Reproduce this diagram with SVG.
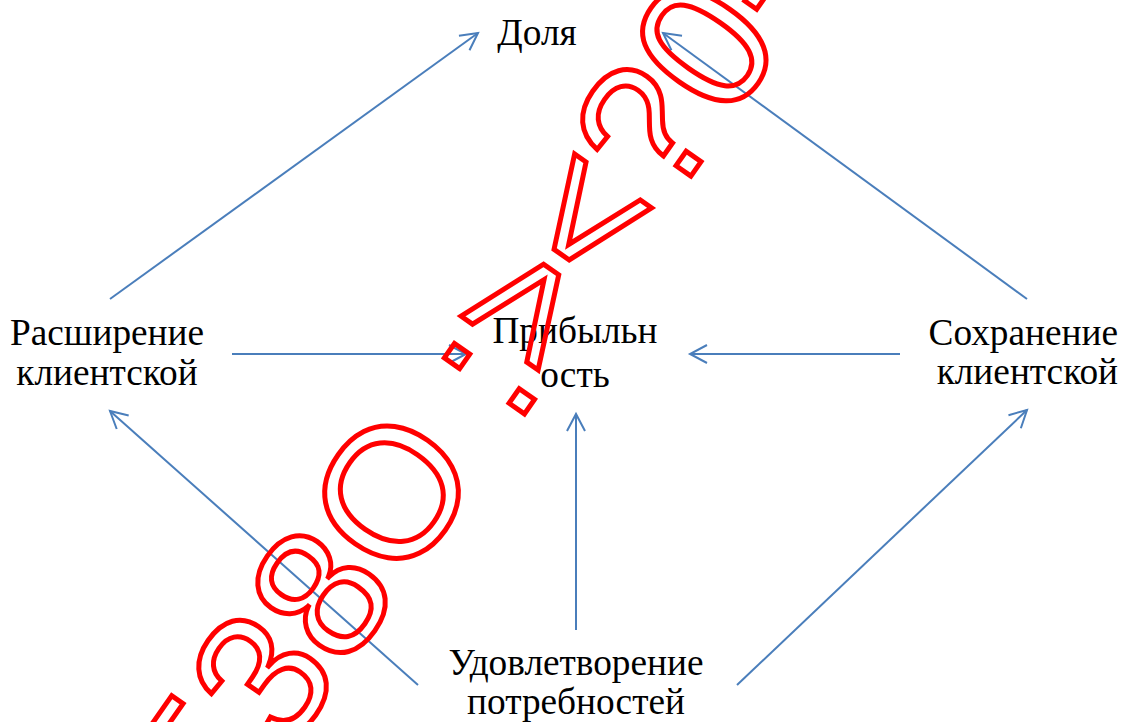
<svg xmlns="http://www.w3.org/2000/svg" width="1124" height="722" viewBox="0 0 1124 722">
<defs>
<style>
.lbl{font-family:"Liberation Serif","Times New Roman",serif;font-size:37.3px;fill:#000;}
.c{fill:none;stroke:#4A7EBB;stroke-width:2;marker-end:url(#ah);}
.wm{font-family:"Liberation Sans",Arial,sans-serif;font-size:185px;fill:none;stroke:#FF0000;stroke-width:5;}
</style>
<marker id="ah" markerUnits="userSpaceOnUse" markerWidth="30" markerHeight="30" viewBox="-20 -15 30 30" refX="0" refY="0" orient="auto">
<path d="M-17,-9 L0,0 L-17,9" fill="none" stroke="#4A7EBB" stroke-width="2"/>
</marker>
</defs>
<rect width="1124" height="722" fill="#fff"/>
<g id="connectors">
<line class="c" x1="110" y1="299" x2="478" y2="33"/>
<line class="c" x1="1027" y1="299" x2="663" y2="33"/>
<line class="c" x1="232" y1="354" x2="466" y2="354"/>
<line class="c" x1="900" y1="354" x2="690" y2="354"/>
<line class="c" x1="576" y1="630" x2="576" y2="414"/>
<line class="c" x1="418" y1="685" x2="110" y2="411"/>
<line class="c" x1="737" y1="685" x2="1027" y2="410"/>
</g>
<g id="node-dolya"><text class="lbl" x="537" y="45" text-anchor="middle">Доля</text></g>
<g id="node-pribyl"><text class="lbl" text-anchor="middle"><tspan x="575" y="343">Прибыльн</tspan><tspan x="575" y="387">ость</tspan></text></g>
<g id="node-rasshirenie"><text class="lbl" text-anchor="middle"><tspan x="107" y="345">Расширение</tspan><tspan x="107" y="385">клиентской</tspan></text></g>
<g id="node-sokhranenie"><text class="lbl" text-anchor="end"><tspan x="1118" y="345">Сохранение</tspan><tspan x="1118" y="384">клиентской</tspan></text></g>
<g id="node-udovl"><text class="lbl" text-anchor="middle"><tspan x="576" y="675">Удовлетворение</tspan><tspan x="576" y="714">потребностей</tspan></text></g>
<g id="watermark"><text class="wm" transform="rotate(-55)" x="-559" y="667">538O :&gt;&lt;?0-</text></g>
</svg>
